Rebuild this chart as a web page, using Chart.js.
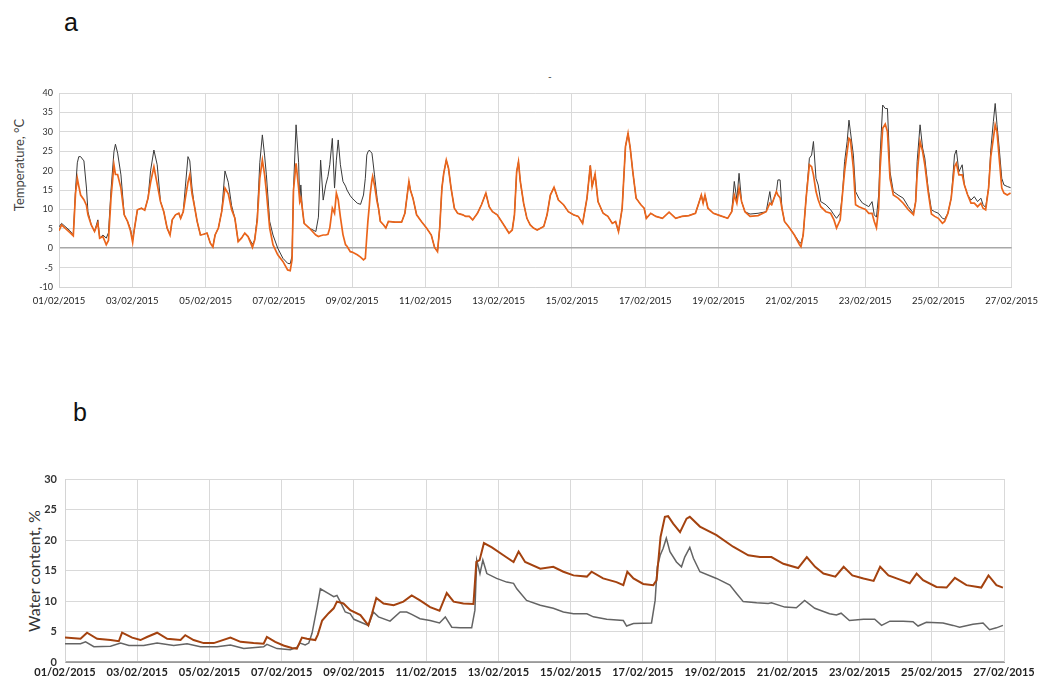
<!DOCTYPE html>
<html>
<head>
<meta charset="utf-8">
<script src="https://cdn.jsdelivr.net/npm/chart.js@4.4.1/dist/chart.umd.min.js"></script>
<style>
  html, body { margin: 0; padding: 0; background: #fff; width: 1046px; height: 684px; overflow: hidden; position: relative; font-family: Lato, sans-serif; }
  canvas { position: absolute; left: 0; }
  #chartA { top: 80px; }
  #chartB { top: 460px; }
  .panel { position: absolute; font-family: "Liberation Sans", Arial, sans-serif; font-size: 25px; color: #111; line-height: 1; }
  .ytitle { position: absolute; white-space: nowrap; font-family: Lato, sans-serif; transform: translate(-50%, -50%) rotate(-90deg); }
</style>
</head>
<body>
<div class="panel" style="left:64px;top:10px;">a</div>
<div class="panel" style="left:73px;top:400px;">b</div>
<div style="position:absolute;left:548px;top:70px;font-size:10px;color:#333;">-</div>
<div class="ytitle" style="left:19px;top:165px;font-size:13px;color:#444;">Temperature, °C</div>
<div class="ytitle" style="left:33px;top:571px;font-size:16px;color:#333;">Water content, %</div>
<canvas id="chartA" width="1046" height="230"></canvas>
<canvas id="chartB" width="1046" height="224"></canvas>
<script>
// Date tick labels, one every two days (x value = days since 01/02/2015)
const dateLabels = ['01/02/2015','03/02/2015','05/02/2015','07/02/2015','09/02/2015','11/02/2015','13/02/2015',
  '15/02/2015','17/02/2015','19/02/2015','21/02/2015','23/02/2015','25/02/2015','27/02/2015'];

// (a) temperature, °C — sample times in days, shared by both sensors
const tempTime = [0.00,0.07,0.30,0.39,0.45,0.50,0.54,0.59,0.68,0.75,0.79,0.88,0.97,1.06,1.11,1.20,1.29,1.35,1.42,1.50,
  1.54,1.60,1.69,1.78,1.87,1.95,2.01,2.05,2.14,2.25,2.34,2.43,2.50,2.59,2.68,2.77,2.86,2.95,3.03,3.09,
  3.18,3.27,3.32,3.39,3.45,3.52,3.57,3.63,3.69,3.77,3.86,3.95,4.04,4.13,4.20,4.26,4.35,4.44,4.53,4.62,
  4.71,4.80,4.89,4.98,5.07,5.16,5.28,5.34,5.41,5.48,5.55,5.61,5.66,5.75,5.84,5.97,6.11,6.24,6.31,6.36,
  6.40,6.47,6.54,6.57,6.60,6.64,6.69,6.83,7.01,7.08,7.14,7.21,7.28,7.34,7.39,7.46,7.52,7.57,7.62,7.68,
  7.75,7.82,7.86,7.95,8.00,8.14,8.23,8.31,8.36,8.40,8.43,8.47,8.49,8.54,8.56,8.61,8.68,8.72,8.77,8.86,
  8.92,8.99,9.17,9.35,9.44,9.55,9.59,9.66,9.76,9.89,10.03,10.16,10.25,10.33,10.39,10.45,10.50,10.57,10.63,10.70,
  10.79,10.88,11.02,11.10,11.20,11.29,11.42,11.53,11.65,11.74,11.83,11.96,12.14,12.28,12.37,12.43,12.49,12.54,12.59,12.68,
  12.77,12.86,12.95,13.05,13.23,13.32,13.41,13.51,13.63,13.77,13.90,14.04,14.17,14.29,14.41,14.50,14.55,14.63,14.71,14.85,
  14.98,15.10,15.19,15.27,15.37,15.46,15.53,15.59,15.66,15.75,15.88,15.97,16.03,16.15,16.29,16.47,16.65,16.83,17.00,17.19,
  17.37,17.46,17.53,17.58,17.63,17.71,17.86,18.04,18.25,18.36,18.43,18.50,18.56,18.63,18.72,18.86,19.08,19.30,19.40,19.45,
  19.58,19.62,19.68,19.73,19.80,19.94,20.07,20.21,20.25,20.31,20.39,20.48,20.54,20.59,20.66,20.72,20.79,20.93,21.06,21.15,
  21.22,21.32,21.38,21.44,21.51,21.56,21.60,21.68,21.74,21.83,21.93,22.01,22.10,22.19,22.25,22.31,22.37,22.41,22.48,22.55,
  22.61,22.68,22.77,22.90,23.04,23.18,23.32,23.38,23.42,23.50,23.57,23.63,23.72,23.81,23.90,24.00,24.11,24.17,24.26,24.35,
  24.44,24.49,24.56,24.65,24.71,24.80,24.89,24.98,25.07,25.16,25.22,25.29,25.37,25.43,25.50,25.55,25.60,25.66,25.73,25.79,
  25.88,25.97];

const tempGray = [5.5,6.4,4.5,3.4,15,22,23.6,23.6,22.5,15.5,9.4,6.0,4.3,7.3,2.6,3.4,2.6,4,15,24.9,
  26.8,24.5,18.9,8.6,6.9,5,2.1,4.5,9.9,10.3,9.8,12.9,20,25.3,21.5,12,9.4,5.2,3.4,7.3,
  8.6,9.0,7.7,9.4,16,23.6,22.5,15.5,11.2,6.9,3.4,3.6,3.9,1.3,0.5,3.4,5.2,9.4,19.9,17,
  11,7.7,1.7,2.6,3.9,3.0,1.0,2.1,8,22,29.2,24,18.9,6.9,3.4,0,-2.6,-3.9,-4,-2,
  15.5,31.8,22,12,16.3,10.3,6.4,5.2,4.3,8,22.7,12.4,16.3,18.5,21.5,28.3,15.5,22.7,27.9,21.5,
  17.2,16,15,13.5,12.9,11.6,11.3,13.7,18,24,24.8,25.3,25,24.5,23,18.9,13,10.3,6.9,6,
  5.2,6.9,6.7,6.7,9,17.2,15,12.9,8.6,6.9,5.2,3.4,0.2,-0.9,5.2,15.5,19.3,22.7,20.6,15.5,
  10.3,9,8.6,8.2,8.2,7.3,9,11.2,14.2,10.7,9.4,8.6,6,3.9,4.7,8.6,19.7,22.3,17.2,11.6,
  7.7,6,5.2,4.7,5.6,8.6,13.7,15.7,12.4,11.2,9.4,8.6,8.2,6.4,12.9,21.3,15.9,19.1,12,9,
  8.2,6.4,6.9,4.3,10.3,26.2,29.6,25.8,19.7,12.9,11.2,10.3,7.7,9,8.2,7.7,9.3,7.7,8.2,8.4,
  9,11.6,13.7,11.6,13.7,10.3,9,8.4,7.7,9.4,17.2,12.5,19.3,12,9.4,8.8,9,9.4,14.6,11.2,
  14.6,17.6,17.6,10.3,6.9,5.2,3.4,1.5,1.3,3.4,12.9,23.2,24,27.5,18,16.3,12,11.2,9.9,8.6,
  7.7,9,13.7,22.3,27.5,33,30,24,14.6,12.9,11.6,11.2,10.7,12,8.6,8,13.7,24,36.9,36,
  36,19.7,14.6,13.7,12.9,10.7,9,12,22.3,31.8,25.8,23.2,15.5,9.9,9.4,9,7.7,7.5,9,12.9,
  24,25.3,19.7,21.5,16.3,13.7,12.4,13.3,12,12.9,11.2,10.5,15.5,25.3,32.6,37.3,31.8,25.8,18,16.3,
  15.9,15.6];

const tempOrange = [4.5,6.0,4.0,3.2,14,18,16,13.7,12.5,11,8.6,6.0,4.3,6.5,2.6,3.0,0.9,2,13,21.5,
  19,19,15.5,8.6,6.9,4.5,1.5,4.5,9.9,10.3,9.8,12.9,17,21,16.5,12,9.4,5.2,3.4,7.3,
  8.6,9.0,7.7,9.4,13,17,18.9,14,11.2,6.9,3.4,3.6,3.9,1.3,0.3,3.4,5.2,9.4,15.5,14,
  10,7.7,1.7,2.6,3.9,3.0,0.2,2.1,7,18,22.7,19,14.6,5.2,0.9,-1.7,-3.4,-5.6,-5.8,-3,
  15,21.9,15.5,12,12.9,10.3,6.4,5.2,3.4,3.0,3.2,3.4,3.4,3.6,5.2,10.3,9,14.2,12.5,8,
  3.5,0.9,0.5,-0.9,-1.0,-1.7,-2.3,-3.0,-2.6,3,6.9,11,13.7,17.5,18.5,16.3,12,10.3,6.9,6,
  5.2,6.9,6.7,6.7,9,17.2,15,12.9,8.6,6.9,5.2,3.4,0.2,-0.9,5.2,15.5,19.3,22.7,20.6,15.5,
  10.3,9,8.6,8.2,8.2,7.3,9,11.2,14.2,10.7,9.4,8.6,6,3.9,4.7,8.6,19.7,22.3,17.2,11.6,
  7.7,6,5.2,4.7,5.6,8.6,13.7,15.7,12.4,11.2,9.4,8.6,8.2,6.4,12.9,21.3,15.9,19.1,12,9,
  8.2,6.4,6.9,4.3,10.3,26.2,29.6,25.8,19.7,12.9,11.2,10.3,7.7,9,8.2,7.7,9.3,7.7,8.2,8.4,
  9,11.6,13.7,11.6,13.7,10.3,9,8.4,7.7,9.4,13.7,11.6,15.5,12,9.4,8.2,8.4,9.4,11.6,11.2,
  14.6,13.7,13,10.3,6.9,5.2,3.4,0.9,0.4,3.4,12.9,21.5,21,18.9,14.6,12.5,10.7,9.4,9,7.3,
  5.2,7.3,13.7,19.7,24.9,28.3,27.9,20.6,11.2,10.7,10.3,10,9,9,6.9,5.3,10.3,20.6,30.9,32,
  30,18,13.7,12.9,11.6,9.9,8.6,12,18.9,27.5,24.9,21.5,14.6,8.8,8.2,7.7,6.4,6.9,9,12.9,
  21,21.9,18.9,18.9,16.3,13.7,11.6,11.6,10.7,11.6,10.3,9.9,15.5,23.6,28.3,31.8,30,23.2,15.5,14.2,
  13.7,14.2];

// (b) water content, % — each sensor has its own sample times (days)
const waterTimeBrown = [0,0.43,0.61,0.89,1.26,1.49,1.58,1.86,2.09,2.27,2.55,2.83,3.20,3.33,3.56,3.84,4.12,4.58,4.86,5.22,
  5.50,5.59,5.82,6.05,6.28,6.42,6.56,6.70,6.93,7.00,7.12,7.30,7.44,7.53,7.71,7.90,8.18,8.40,8.50,8.62,
  8.82,9.10,9.37,9.60,9.83,10.11,10.37,10.57,10.76,11.03,11.31,11.39,11.48,11.54,11.60,11.82,12.14,12.42,12.56,12.74,
  13.16,13.52,13.80,14.08,14.45,14.58,14.90,15.27,15.46,15.57,15.74,16.01,16.29,16.38,16.49,16.61,16.70,16.84,17.03,17.21,
  17.30,17.58,18.04,18.50,18.92,19.24,19.56,19.89,20.30,20.54,20.77,21.00,21.33,21.56,21.80,22.11,22.39,22.57,22.80,23.12,
  23.39,23.58,23.76,24.13,24.41,24.64,24.96,25.37,25.57,25.79,25.97];
const waterBrown = [4.0,3.8,4.8,3.8,3.6,3.4,4.8,4.0,3.6,4.1,4.8,3.8,3.6,4.4,3.6,3.1,3.1,4.0,3.3,3.1,
  3.0,4.1,3.3,2.7,2.3,2.2,4.0,3.8,3.6,4.5,6.8,8.0,8.8,9.9,9.6,8.5,7.7,6.0,7.9,10.5,
  9.6,9.3,9.9,10.9,10.1,9.0,8.4,11.3,9.9,9.6,9.5,16.4,16.7,18.1,19.5,18.8,17.5,16.4,18.1,16.4,
  15.3,15.6,14.8,14.2,14.0,14.8,13.7,13.1,12.6,14.8,13.7,12.8,12.6,13.4,20.5,23.8,23.9,22.7,21.3,23.5,
  23.8,22.2,20.8,18.9,17.5,17.2,17.2,16.1,15.4,17.2,15.6,14.5,14.0,15.6,14.2,13.7,13.3,15.6,14.2,13.5,
  12.9,14.5,13.4,12.3,12.2,13.8,12.6,12.2,14.2,12.6,12.2];

const waterTimeGray = [0,0.43,0.57,0.80,1.26,1.54,1.77,2.18,2.55,3.01,3.38,3.75,4.21,4.58,4.95,5.50,5.59,5.87,6.24,6.42,
  6.51,6.65,6.75,6.84,6.98,7.07,7.30,7.44,7.53,7.62,7.76,7.90,8.00,8.40,8.54,8.68,9.00,9.28,9.46,9.60,
  9.83,10.11,10.37,10.53,10.71,10.94,11.26,11.35,11.40,11.49,11.57,11.68,11.95,12.23,12.42,12.51,12.78,13.16,13.52,13.80,
  14.08,14.45,14.63,15.00,15.46,15.55,15.74,16.24,16.34,16.40,16.48,16.56,16.65,16.75,16.93,17.07,17.16,17.30,17.40,17.58,
  18.04,18.41,18.60,18.78,19.15,19.47,19.56,19.93,20.25,20.48,20.76,21.17,21.36,21.49,21.72,22.11,22.42,22.61,22.84,23.21,
  23.48,23.62,23.85,24.31,24.59,24.77,25.14,25.42,25.60,25.79,25.97];
const waterGray = [3.0,3.0,3.3,2.5,2.6,3.1,2.7,2.7,3.1,2.7,3.0,2.5,2.5,2.8,2.2,2.5,2.9,2.2,2.0,2.4,
  3.1,2.8,3.1,4.7,9.0,12.0,11.2,10.7,10.9,9.9,8.2,7.9,7.0,6.0,8.2,7.4,6.7,8.2,8.2,7.8,
  7.1,6.8,6.4,7.4,5.7,5.6,5.6,8.5,16.7,14.5,16.7,14.5,13.7,13.1,12.9,12.0,10.1,9.3,8.8,8.2,
  7.9,7.9,7.4,7.0,6.8,5.9,6.3,6.4,10.1,15.6,17.5,18.6,20.3,18.1,16.4,15.6,17.2,18.8,17.0,14.8,
  13.7,12.6,11.2,9.9,9.7,9.6,9.7,9.0,8.9,10.1,8.8,7.9,7.7,8.0,6.8,7.0,7.0,6.0,6.7,6.7,
  6.6,5.9,6.5,6.4,6.0,5.7,6.2,6.4,5.3,5.6,6.0];

const pts = (t, v) => t.map((d, i) => ({ x: d, y: v[i] }));

function dateAxis(fontSize, weight, pad, height, borderColor) {
  return {
    type: 'linear', min: 0, max: 26,
    afterFit: s => { s.height = height; },
    grid: { color: '#d9d9d9', lineWidth: 1, drawTicks: false },
    border: { display: true, color: borderColor, width: 1 },
    ticks: {
      stepSize: 2, autoSkip: false, maxRotation: 0, minRotation: 0, padding: pad,
      color: '#222', font: { family: 'Lato', size: fontSize, weight: weight },
      callback: v => dateLabels[Math.round(v / 2)]
    }
  };
}

function valueAxis(min, max, width, fontSize, pad, weight) {
  return {
    min: min, max: max,
    afterFit: s => { s.width = width; },
    grid: { color: c => (c.tick && c.tick.value === 0 ? '#a8a8a8' : '#d9d9d9'),
            lineWidth: c => (c.tick && c.tick.value === 0 ? 1.5 : 1), drawTicks: false },
    border: { display: true, color: '#d4d4d4', width: 1 },
    ticks: { stepSize: 5, padding: pad, color: '#333', font: { family: 'Lato', size: fontSize, weight: weight } }
  };
}

const common = {
  responsive: false, animation: false, events: [],
  plugins: { legend: { display: false }, tooltip: { enabled: false } },
  elements: { point: { radius: 0 }, line: { tension: 0 } }
};

new Chart(document.getElementById('chartA'), {
  type: 'line',
  data: { datasets: [
    { data: pts(tempTime, tempOrange), borderColor: '#eb651b', borderWidth: 1.7 },
    { data: pts(tempTime, tempGray), borderColor: '#3a3a3a', borderWidth: 1 }
  ]},
  options: Object.assign({}, common, {
    layout: { padding: { left: 0, right: 26, top: 13, bottom: 0 } },
    scales: {
      x: dateAxis(9.5, 'normal', 8, 23, '#d4d4d4'),
      y: valueAxis(-10, 40, 59, 9, 6, 'normal')
    }
  })
});

new Chart(document.getElementById('chartB'), {
  type: 'line',
  data: { datasets: [
    { data: pts(waterTimeBrown, waterBrown), borderColor: '#a4420f', borderWidth: 2 },
    { data: pts(waterTimeGray, waterGray), borderColor: '#646464', borderWidth: 1.5 }
  ]},
  options: Object.assign({}, common, {
    layout: { padding: { left: 0, right: 42, top: 19, bottom: 0 } },
    scales: {
      x: dateAxis(11, 'bold', 4, 22, '#9a9a9a'),
      y: valueAxis(0, 30, 65, 11, 8, 'bold')
    }
  })
});
</script>
</body>
</html>
